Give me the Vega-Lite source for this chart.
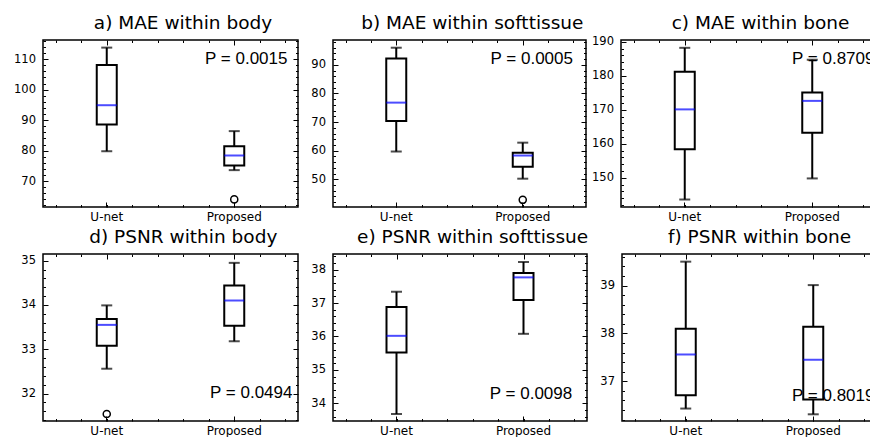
{
  "$schema": "https://vega.github.io/schema/vega-lite/v6.json",
  "background": "white",
  "padding": {"left": 12, "top": 13, "right": 0, "bottom": 0},
  "datasets": {
    "boxes": [
      {"panel": "a", "group": "U-net", "min": 79.8, "q1": 88.6, "median": 94.9, "q3": 108.1, "max": 113.8},
      {"panel": "a", "group": "Proposed", "min": 73.6, "q1": 75.1, "median": 78.4, "q3": 81.4, "max": 86.4},
      {"panel": "b", "group": "U-net", "min": 59.7, "q1": 70.4, "median": 76.8, "q3": 92.2, "max": 96.0},
      {"panel": "b", "group": "Proposed", "min": 50.2, "q1": 54.4, "median": 58.3, "q3": 59.3, "max": 62.8},
      {"panel": "c", "group": "U-net", "min": 143.6, "q1": 158.4, "median": 170.1, "q3": 181.2, "max": 188.2},
      {"panel": "c", "group": "Proposed", "min": 149.8, "q1": 163.2, "median": 172.6, "q3": 175.1, "max": 184.7},
      {"panel": "d", "group": "U-net", "min": 32.56, "q1": 33.08, "median": 33.55, "q3": 33.68, "max": 33.99},
      {"panel": "d", "group": "Proposed", "min": 33.18, "q1": 33.53, "median": 34.10, "q3": 34.44, "max": 34.95},
      {"panel": "e", "group": "U-net", "min": 33.68, "q1": 35.52, "median": 36.02, "q3": 36.88, "max": 37.34},
      {"panel": "e", "group": "Proposed", "min": 36.08, "q1": 37.09, "median": 37.77, "q3": 37.90, "max": 38.23},
      {"panel": "f", "group": "U-net", "min": 36.43, "q1": 36.71, "median": 37.56, "q3": 38.10, "max": 39.50},
      {"panel": "f", "group": "Proposed", "min": 36.31, "q1": 36.62, "median": 37.45, "q3": 38.14, "max": 39.01}
    ],
    "outliers": [
      {"panel": "a", "group": "Proposed", "value": 64.0},
      {"panel": "b", "group": "Proposed", "value": 42.8},
      {"panel": "d", "group": "U-net", "value": 31.54}
    ],
    "pvalues": [
      {"panel": "a", "label": "P = 0.0015"},
      {"panel": "b", "label": "P = 0.0005"},
      {"panel": "c", "label": "P = 0.8709"},
      {"panel": "d", "label": "P = 0.0494"},
      {"panel": "e", "label": "P = 0.0098"},
      {"panel": "f", "label": "P = 0.8019"}
    ]
  },
  "spacing": 4,
  "vconcat": [
    {
      "spacing": 35,
      "bounds": "flush",
      "hconcat": [
        {
          "width": 255, "height": 167,
          "title": {"text": "a) MAE within body", "dx": 12.5},
          "resolve": {"scale": {"x": "independent"}, "axis": {"x": "independent", "y": "independent"}},
          "layer": [
            {
              "data": {"name": "boxes"},
              "transform": [{"filter": "datum.panel === 'a'"}],
              "encoding": {"x": {"field": "group", "type": "nominal", "sort": ["U-net", "Proposed"], "scale": {"domain": ["U-net", "Proposed"], "paddingInner": 0, "paddingOuter": 0}, "axis": {"orient": "bottom", "ticks": true, "tickSize": -5, "bandPosition": 0.5, "domain": false, "labelPadding": 9, "labelAngle": 0, "labelFontSize": 12, "title": null}}},
              "layer": [
                {"mark": {"type": "rule", "color": "black", "strokeWidth": 2}, "encoding": {"y": {"field": "min", "type": "quantitative", "scale": {"domain": [61.5, 116.3], "nice": false, "zero": false}, "axis": {"orient": "left", "values": [70, 80, 90, 100, 110], "format": "d", "tickSize": -5, "labelPadding": 12.5, "labelOverlap": false, "domain": false, "title": null}}, "y2": {"field": "max"}}},
                {"mark": {"type": "bar", "width": 20, "fill": "white", "stroke": "black", "strokeWidth": 2}, "encoding": {"y": {"field": "q1", "type": "quantitative"}, "y2": {"field": "q3"}}},
                {"mark": {"type": "tick", "color": "black", "thickness": 2, "size": 11}, "encoding": {"y": {"field": "min", "type": "quantitative"}}},
                {"mark": {"type": "tick", "color": "black", "thickness": 2, "size": 11}, "encoding": {"y": {"field": "max", "type": "quantitative"}}},
                {"mark": {"type": "tick", "color": "#0000ff", "thickness": 2, "size": 20}, "encoding": {"y": {"field": "median", "type": "quantitative"}}},
                {"data": {"name": "outliers"}, "transform": [{"filter": "datum.panel === 'a'"}], "mark": {"type": "point", "shape": "circle", "filled": false, "stroke": "black", "strokeWidth": 1.5, "size": 50, "opacity": 1}, "encoding": {"y": {"field": "value", "type": "quantitative"}}},
                {"data": {"name": "pvalues"}, "transform": [{"filter": "datum.panel === 'a'"}], "mark": {"type": "text", "font": "Liberation Sans", "fontSize": 17, "color": "black", "align": "center", "baseline": "middle", "dx": 12}, "encoding": {"x": {"datum": "Proposed", "type": "nominal"}, "y": {"datum": 110, "type": "quantitative"}, "text": {"field": "label"}}}
              ]
            },
            {"data": {"values": [{}]}, "mark": {"type": "point", "opacity": 0}, "encoding": {"x": {"datum": 0.5, "type": "quantitative", "scale": {"domain": [0, 1], "nice": false, "zero": false}, "axis": {"orient": "bottom", "values": [0.05,0.15,0.25,0.35,0.45,0.55,0.65,0.75,0.85,0.95], "labels": false, "domain": false, "title": null, "tickSize": -2.5}}, "y": {"datum": 90, "type": "quantitative", "axis": {"orient": "left", "values": [62,64,66,68,72,74,76,78,82,84,86,88,92,94,96,98,102,104,106,108,112,114,116], "labels": false, "domain": false, "title": null, "tickSize": -2.5}}}},
            {"data": {"values": [{}]}, "mark": {"type": "point", "opacity": 0}, "encoding": {"x": {"datum": 0.5, "type": "quantitative", "scale": {"domain": [0, 1], "nice": false, "zero": false}, "axis": {"orient": "top", "values": [0.05,0.15,0.35,0.45,0.55,0.65,0.85,0.95], "labels": false, "domain": false, "title": null, "tickSize": -2.5}}, "y": {"datum": 90, "type": "quantitative", "axis": {"orient": "right", "values": [62,64,66,68,72,74,76,78,82,84,86,88,92,94,96,98,102,104,106,108,112,114,116], "labels": false, "domain": false, "title": null, "tickSize": -2.5}}}},
            {"data": {"values": [{}]}, "mark": {"type": "point", "opacity": 0}, "encoding": {"x": {"datum": 0.5, "type": "quantitative", "scale": {"domain": [0, 1], "nice": false, "zero": false}, "axis": {"orient": "top", "values": [0.25, 0.75], "labels": false, "domain": false, "title": null, "tickSize": -5}}, "y": {"datum": 90, "type": "quantitative", "axis": {"orient": "right", "values": [70, 80, 90, 100, 110], "labels": false, "domain": false, "title": null, "tickSize": -5}}}}
          ]
        },
        {
          "width": 253, "height": 167,
          "title": {"text": "b) MAE within softtissue", "dx": 12.8},
          "resolve": {"scale": {"x": "independent"}, "axis": {"x": "independent", "y": "independent"}},
          "layer": [
            {
              "data": {"name": "boxes"},
              "transform": [{"filter": "datum.panel === 'b'"}],
              "encoding": {"x": {"field": "group", "type": "nominal", "sort": ["U-net", "Proposed"], "scale": {"domain": ["U-net", "Proposed"], "paddingInner": 0, "paddingOuter": 0}, "axis": {"orient": "bottom", "ticks": true, "tickSize": -5, "bandPosition": 0.5, "domain": false, "labelPadding": 9, "labelAngle": 0, "labelFontSize": 12, "title": null}}},
              "layer": [
                {"mark": {"type": "rule", "color": "black", "strokeWidth": 2}, "encoding": {"y": {"field": "min", "type": "quantitative", "scale": {"domain": [40.3, 98.7], "nice": false, "zero": false}, "axis": {"orient": "left", "values": [50, 60, 70, 80, 90], "format": "d", "tickSize": -5, "labelPadding": 12.5, "labelOverlap": false, "domain": false, "title": null}}, "y2": {"field": "max"}}},
                {"mark": {"type": "bar", "width": 20, "fill": "white", "stroke": "black", "strokeWidth": 2}, "encoding": {"y": {"field": "q1", "type": "quantitative"}, "y2": {"field": "q3"}}},
                {"mark": {"type": "tick", "color": "black", "thickness": 2, "size": 11}, "encoding": {"y": {"field": "min", "type": "quantitative"}}},
                {"mark": {"type": "tick", "color": "black", "thickness": 2, "size": 11}, "encoding": {"y": {"field": "max", "type": "quantitative"}}},
                {"mark": {"type": "tick", "color": "#0000ff", "thickness": 2, "size": 20}, "encoding": {"y": {"field": "median", "type": "quantitative"}}},
                {"data": {"name": "outliers"}, "transform": [{"filter": "datum.panel === 'b'"}], "mark": {"type": "point", "shape": "circle", "filled": false, "stroke": "black", "strokeWidth": 1.5, "size": 50, "opacity": 1}, "encoding": {"y": {"field": "value", "type": "quantitative"}}},
                {"data": {"name": "pvalues"}, "transform": [{"filter": "datum.panel === 'b'"}], "mark": {"type": "text", "font": "Liberation Sans", "fontSize": 17, "color": "black", "align": "center", "baseline": "middle", "dx": 9}, "encoding": {"x": {"datum": "Proposed", "type": "nominal"}, "y": {"datum": 91.9, "type": "quantitative"}, "text": {"field": "label"}}}
              ]
            },
            {"data": {"values": [{}]}, "mark": {"type": "point", "opacity": 0}, "encoding": {"x": {"datum": 0.5, "type": "quantitative", "scale": {"domain": [0, 1], "nice": false, "zero": false}, "axis": {"orient": "bottom", "values": [0.05,0.15,0.25,0.35,0.45,0.55,0.65,0.75,0.85,0.95], "labels": false, "domain": false, "title": null, "tickSize": -2.5}}, "y": {"datum": 70, "type": "quantitative", "axis": {"orient": "left", "values": [42,44,46,48,52,54,56,58,62,64,66,68,72,74,76,78,82,84,86,88,92,94,96,98], "labels": false, "domain": false, "title": null, "tickSize": -2.5}}}},
            {"data": {"values": [{}]}, "mark": {"type": "point", "opacity": 0}, "encoding": {"x": {"datum": 0.5, "type": "quantitative", "scale": {"domain": [0, 1], "nice": false, "zero": false}, "axis": {"orient": "top", "values": [0.05,0.15,0.35,0.45,0.55,0.65,0.85,0.95], "labels": false, "domain": false, "title": null, "tickSize": -2.5}}, "y": {"datum": 70, "type": "quantitative", "axis": {"orient": "right", "values": [42,44,46,48,52,54,56,58,62,64,66,68,72,74,76,78,82,84,86,88,92,94,96,98], "labels": false, "domain": false, "title": null, "tickSize": -2.5}}}},
            {"data": {"values": [{}]}, "mark": {"type": "point", "opacity": 0}, "encoding": {"x": {"datum": 0.5, "type": "quantitative", "scale": {"domain": [0, 1], "nice": false, "zero": false}, "axis": {"orient": "top", "values": [0.25, 0.75], "labels": false, "domain": false, "title": null, "tickSize": -5}}, "y": {"datum": 70, "type": "quantitative", "axis": {"orient": "right", "values": [50, 60, 70, 80, 90], "labels": false, "domain": false, "title": null, "tickSize": -5}}}}
          ]
        },
        {
          "width": 255, "height": 167,
          "title": {"text": "c) MAE within bone", "dx": 12, "offset": 3},
          "resolve": {"scale": {"x": "independent"}, "axis": {"x": "independent", "y": "independent"}},
          "layer": [
            {
              "data": {"name": "boxes"},
              "transform": [{"filter": "datum.panel === 'c'"}],
              "encoding": {"x": {"field": "group", "type": "nominal", "sort": ["U-net", "Proposed"], "scale": {"domain": ["U-net", "Proposed"], "paddingInner": 0, "paddingOuter": 0}, "axis": {"orient": "bottom", "ticks": true, "tickSize": -5, "bandPosition": 0.5, "domain": false, "labelPadding": 9, "labelAngle": 0, "labelFontSize": 12, "title": null}}},
              "layer": [
                {"mark": {"type": "rule", "color": "black", "strokeWidth": 2}, "encoding": {"y": {"field": "min", "type": "quantitative", "scale": {"domain": [141.4, 190.5], "nice": false, "zero": false}, "axis": {"orient": "left", "values": [150, 160, 170, 180, 190], "format": "d", "tickSize": -5, "labelPadding": 12.5, "labelOverlap": false, "domain": false, "title": null}}, "y2": {"field": "max"}}},
                {"mark": {"type": "bar", "width": 20, "fill": "white", "stroke": "black", "strokeWidth": 2}, "encoding": {"y": {"field": "q1", "type": "quantitative"}, "y2": {"field": "q3"}}},
                {"mark": {"type": "tick", "color": "black", "thickness": 2, "size": 11}, "encoding": {"y": {"field": "min", "type": "quantitative"}}},
                {"mark": {"type": "tick", "color": "black", "thickness": 2, "size": 11}, "encoding": {"y": {"field": "max", "type": "quantitative"}}},
                {"mark": {"type": "tick", "color": "#0000ff", "thickness": 2, "size": 20}, "encoding": {"y": {"field": "median", "type": "quantitative"}}},
                {"data": {"name": "pvalues"}, "transform": [{"filter": "datum.panel === 'c'"}], "mark": {"type": "text", "font": "Liberation Sans", "fontSize": 17, "color": "black", "align": "center", "baseline": "middle", "dx": 21}, "encoding": {"x": {"datum": "Proposed", "type": "nominal"}, "y": {"datum": 184.8, "type": "quantitative"}, "text": {"field": "label"}}}
              ]
            },
            {"data": {"values": [{}]}, "mark": {"type": "point", "opacity": 0}, "encoding": {"x": {"datum": 0.5, "type": "quantitative", "scale": {"domain": [0, 1], "nice": false, "zero": false}, "axis": {"orient": "bottom", "values": [0.05,0.15,0.25,0.35,0.45,0.55,0.65,0.75,0.85,0.95], "labels": false, "domain": false, "title": null, "tickSize": -2.5}}, "y": {"datum": 170, "type": "quantitative", "axis": {"orient": "left", "values": [142,144,146,148,152,154,156,158,162,164,166,168,172,174,176,178,182,184,186,188], "labels": false, "domain": false, "title": null, "tickSize": -2.5}}}},
            {"data": {"values": [{}]}, "mark": {"type": "point", "opacity": 0}, "encoding": {"x": {"datum": 0.5, "type": "quantitative", "scale": {"domain": [0, 1], "nice": false, "zero": false}, "axis": {"orient": "top", "values": [0.05,0.15,0.35,0.45,0.55,0.65,0.85,0.95], "labels": false, "domain": false, "title": null, "tickSize": -2.5}}, "y": {"datum": 170, "type": "quantitative", "axis": {"orient": "right", "values": [142,144,146,148,152,154,156,158,162,164,166,168,172,174,176,178,182,184,186,188], "labels": false, "domain": false, "title": null, "tickSize": -2.5}}}},
            {"data": {"values": [{}]}, "mark": {"type": "point", "opacity": 0}, "encoding": {"x": {"datum": 0.5, "type": "quantitative", "scale": {"domain": [0, 1], "nice": false, "zero": false}, "axis": {"orient": "top", "values": [0.25, 0.75], "labels": false, "domain": false, "title": null, "tickSize": -5}}, "y": {"datum": 170, "type": "quantitative", "axis": {"orient": "right", "values": [150, 160, 170, 180, 190], "labels": false, "domain": false, "title": null, "tickSize": -5}}}}
          ]
        }
      ]
    },
    {
      "spacing": 35,
      "bounds": "flush",
      "hconcat": [
        {
          "width": 255, "height": 167,
          "title": {"text": "d) PSNR within body", "dx": 12.8},
          "resolve": {"scale": {"x": "independent"}, "axis": {"x": "independent", "y": "independent"}},
          "layer": [
            {
              "data": {"name": "boxes"},
              "transform": [{"filter": "datum.panel === 'd'"}],
              "encoding": {"x": {"field": "group", "type": "nominal", "sort": ["U-net", "Proposed"], "scale": {"domain": ["U-net", "Proposed"], "paddingInner": 0, "paddingOuter": 0}, "axis": {"orient": "bottom", "ticks": true, "tickSize": -5, "bandPosition": 0.5, "domain": false, "labelPadding": 9, "labelAngle": 0, "labelFontSize": 12, "title": null}}},
              "layer": [
                {"mark": {"type": "rule", "color": "black", "strokeWidth": 2}, "encoding": {"y": {"field": "min", "type": "quantitative", "scale": {"domain": [31.38, 35.15], "nice": false, "zero": false}, "axis": {"orient": "left", "values": [32, 33, 34, 35], "format": "d", "tickSize": -5, "labelPadding": 12.5, "labelOverlap": false, "domain": false, "title": null}}, "y2": {"field": "max"}}},
                {"mark": {"type": "bar", "width": 20, "fill": "white", "stroke": "black", "strokeWidth": 2}, "encoding": {"y": {"field": "q1", "type": "quantitative"}, "y2": {"field": "q3"}}},
                {"mark": {"type": "tick", "color": "black", "thickness": 2, "size": 11}, "encoding": {"y": {"field": "min", "type": "quantitative"}}},
                {"mark": {"type": "tick", "color": "black", "thickness": 2, "size": 11}, "encoding": {"y": {"field": "max", "type": "quantitative"}}},
                {"mark": {"type": "tick", "color": "#0000ff", "thickness": 2, "size": 20}, "encoding": {"y": {"field": "median", "type": "quantitative"}}},
                {"data": {"name": "outliers"}, "transform": [{"filter": "datum.panel === 'd'"}], "mark": {"type": "point", "shape": "circle", "filled": false, "stroke": "black", "strokeWidth": 1.5, "size": 50, "opacity": 1}, "encoding": {"y": {"field": "value", "type": "quantitative"}}},
                {"data": {"name": "pvalues"}, "transform": [{"filter": "datum.panel === 'd'"}], "mark": {"type": "text", "font": "Liberation Sans", "fontSize": 17, "color": "black", "align": "center", "baseline": "middle", "dx": 17}, "encoding": {"x": {"datum": "Proposed", "type": "nominal"}, "y": {"datum": 32.02, "type": "quantitative"}, "text": {"field": "label"}}}
              ]
            },
            {"data": {"values": [{}]}, "mark": {"type": "point", "opacity": 0}, "encoding": {"x": {"datum": 0.5, "type": "quantitative", "scale": {"domain": [0, 1], "nice": false, "zero": false}, "axis": {"orient": "bottom", "values": [0.05,0.15,0.25,0.35,0.45,0.55,0.65,0.75,0.85,0.95], "labels": false, "domain": false, "title": null, "tickSize": -2.5}}, "y": {"datum": 33, "type": "quantitative", "axis": {"orient": "left", "values": [31.4,31.6,31.8,32.2,32.4,32.6,32.8,33.2,33.4,33.6,33.8,34.2,34.4,34.6,34.8], "labels": false, "domain": false, "title": null, "tickSize": -2.5}}}},
            {"data": {"values": [{}]}, "mark": {"type": "point", "opacity": 0}, "encoding": {"x": {"datum": 0.5, "type": "quantitative", "scale": {"domain": [0, 1], "nice": false, "zero": false}, "axis": {"orient": "top", "values": [0.05,0.15,0.35,0.45,0.55,0.65,0.85,0.95], "labels": false, "domain": false, "title": null, "tickSize": -2.5}}, "y": {"datum": 33, "type": "quantitative", "axis": {"orient": "right", "values": [31.4,31.6,31.8,32.2,32.4,32.6,32.8,33.2,33.4,33.6,33.8,34.2,34.4,34.6,34.8], "labels": false, "domain": false, "title": null, "tickSize": -2.5}}}},
            {"data": {"values": [{}]}, "mark": {"type": "point", "opacity": 0}, "encoding": {"x": {"datum": 0.5, "type": "quantitative", "scale": {"domain": [0, 1], "nice": false, "zero": false}, "axis": {"orient": "top", "values": [0.25, 0.75], "labels": false, "domain": false, "title": null, "tickSize": -5}}, "y": {"datum": 33, "type": "quantitative", "axis": {"orient": "right", "values": [32, 33, 34, 35], "labels": false, "domain": false, "title": null, "tickSize": -5}}}}
          ]
        },
        {
          "width": 254, "height": 167,
          "title": {"text": "e) PSNR within softtissue", "dx": 12.6},
          "resolve": {"scale": {"x": "independent"}, "axis": {"x": "independent", "y": "independent"}},
          "layer": [
            {
              "data": {"name": "boxes"},
              "transform": [{"filter": "datum.panel === 'e'"}],
              "encoding": {"x": {"field": "group", "type": "nominal", "sort": ["U-net", "Proposed"], "scale": {"domain": ["U-net", "Proposed"], "paddingInner": 0, "paddingOuter": 0}, "axis": {"orient": "bottom", "ticks": true, "tickSize": -5, "bandPosition": 0.5, "domain": false, "labelPadding": 9, "labelAngle": 0, "labelFontSize": 12, "title": null}}},
              "layer": [
                {"mark": {"type": "rule", "color": "black", "strokeWidth": 2}, "encoding": {"y": {"field": "min", "type": "quantitative", "scale": {"domain": [33.47, 38.47], "nice": false, "zero": false}, "axis": {"orient": "left", "values": [34, 35, 36, 37, 38], "format": "d", "tickSize": -5, "labelPadding": 12.5, "labelOverlap": false, "domain": false, "title": null}}, "y2": {"field": "max"}}},
                {"mark": {"type": "bar", "width": 20, "fill": "white", "stroke": "black", "strokeWidth": 2}, "encoding": {"y": {"field": "q1", "type": "quantitative"}, "y2": {"field": "q3"}}},
                {"mark": {"type": "tick", "color": "black", "thickness": 2, "size": 11}, "encoding": {"y": {"field": "min", "type": "quantitative"}}},
                {"mark": {"type": "tick", "color": "black", "thickness": 2, "size": 11}, "encoding": {"y": {"field": "max", "type": "quantitative"}}},
                {"mark": {"type": "tick", "color": "#0000ff", "thickness": 2, "size": 20}, "encoding": {"y": {"field": "median", "type": "quantitative"}}},
                {"data": {"name": "pvalues"}, "transform": [{"filter": "datum.panel === 'e'"}], "mark": {"type": "text", "font": "Liberation Sans", "fontSize": 17, "color": "black", "align": "center", "baseline": "middle", "dx": 7.5}, "encoding": {"x": {"datum": "Proposed", "type": "nominal"}, "y": {"datum": 34.28, "type": "quantitative"}, "text": {"field": "label"}}}
              ]
            },
            {"data": {"values": [{}]}, "mark": {"type": "point", "opacity": 0}, "encoding": {"x": {"datum": 0.5, "type": "quantitative", "scale": {"domain": [0, 1], "nice": false, "zero": false}, "axis": {"orient": "bottom", "values": [0.05,0.15,0.25,0.35,0.45,0.55,0.65,0.75,0.85,0.95], "labels": false, "domain": false, "title": null, "tickSize": -2.5}}, "y": {"datum": 36, "type": "quantitative", "axis": {"orient": "left", "values": [33.6,33.8,34.2,34.4,34.6,34.8,35.2,35.4,35.6,35.8,36.2,36.4,36.6,36.8,37.2,37.4,37.6,37.8,38.2,38.4], "labels": false, "domain": false, "title": null, "tickSize": -2.5}}}},
            {"data": {"values": [{}]}, "mark": {"type": "point", "opacity": 0}, "encoding": {"x": {"datum": 0.5, "type": "quantitative", "scale": {"domain": [0, 1], "nice": false, "zero": false}, "axis": {"orient": "top", "values": [0.05,0.15,0.35,0.45,0.55,0.65,0.85,0.95], "labels": false, "domain": false, "title": null, "tickSize": -2.5}}, "y": {"datum": 36, "type": "quantitative", "axis": {"orient": "right", "values": [33.6,33.8,34.2,34.4,34.6,34.8,35.2,35.4,35.6,35.8,36.2,36.4,36.6,36.8,37.2,37.4,37.6,37.8,38.2,38.4], "labels": false, "domain": false, "title": null, "tickSize": -2.5}}}},
            {"data": {"values": [{}]}, "mark": {"type": "point", "opacity": 0}, "encoding": {"x": {"datum": 0.5, "type": "quantitative", "scale": {"domain": [0, 1], "nice": false, "zero": false}, "axis": {"orient": "top", "values": [0.25, 0.75], "labels": false, "domain": false, "title": null, "tickSize": -5}}, "y": {"datum": 36, "type": "quantitative", "axis": {"orient": "right", "values": [34, 35, 36, 37, 38], "labels": false, "domain": false, "title": null, "tickSize": -5}}}}
          ]
        },
        {
          "width": 255, "height": 167,
          "title": {"text": "f) PSNR within bone", "dx": 10},
          "resolve": {"scale": {"x": "independent"}, "axis": {"x": "independent", "y": "independent"}},
          "layer": [
            {
              "data": {"name": "boxes"},
              "transform": [{"filter": "datum.panel === 'f'"}],
              "encoding": {"x": {"field": "group", "type": "nominal", "sort": ["U-net", "Proposed"], "scale": {"domain": ["U-net", "Proposed"], "paddingInner": 0, "paddingOuter": 0}, "axis": {"orient": "bottom", "ticks": true, "tickSize": -5, "bandPosition": 0.5, "domain": false, "labelPadding": 9, "labelAngle": 0, "labelFontSize": 12, "title": null}}},
              "layer": [
                {"mark": {"type": "rule", "color": "black", "strokeWidth": 2}, "encoding": {"y": {"field": "min", "type": "quantitative", "scale": {"domain": [36.17, 39.66], "nice": false, "zero": false}, "axis": {"orient": "left", "values": [37, 38, 39], "format": "d", "tickSize": -5, "labelPadding": 12.5, "labelOverlap": false, "domain": false, "title": null}}, "y2": {"field": "max"}}},
                {"mark": {"type": "bar", "width": 20, "fill": "white", "stroke": "black", "strokeWidth": 2}, "encoding": {"y": {"field": "q1", "type": "quantitative"}, "y2": {"field": "q3"}}},
                {"mark": {"type": "tick", "color": "black", "thickness": 2, "size": 11}, "encoding": {"y": {"field": "min", "type": "quantitative"}}},
                {"mark": {"type": "tick", "color": "black", "thickness": 2, "size": 11}, "encoding": {"y": {"field": "max", "type": "quantitative"}}},
                {"mark": {"type": "tick", "color": "#0000ff", "thickness": 2, "size": 20}, "encoding": {"y": {"field": "median", "type": "quantitative"}}},
                {"data": {"name": "pvalues"}, "transform": [{"filter": "datum.panel === 'f'"}], "mark": {"type": "text", "font": "Liberation Sans", "fontSize": 17, "color": "black", "align": "center", "baseline": "middle", "dx": 20}, "encoding": {"x": {"datum": "Proposed", "type": "nominal"}, "y": {"datum": 36.69, "type": "quantitative"}, "text": {"field": "label"}}}
              ]
            },
            {"data": {"values": [{}]}, "mark": {"type": "point", "opacity": 0}, "encoding": {"x": {"datum": 0.5, "type": "quantitative", "scale": {"domain": [0, 1], "nice": false, "zero": false}, "axis": {"orient": "bottom", "values": [0.05,0.15,0.25,0.35,0.45,0.55,0.65,0.75,0.85,0.95], "labels": false, "domain": false, "title": null, "tickSize": -2.5}}, "y": {"datum": 38, "type": "quantitative", "axis": {"orient": "left", "values": [36.2,36.4,36.6,36.8,37.2,37.4,37.6,37.8,38.2,38.4,38.6,38.8,39.2,39.4,39.6], "labels": false, "domain": false, "title": null, "tickSize": -2.5}}}},
            {"data": {"values": [{}]}, "mark": {"type": "point", "opacity": 0}, "encoding": {"x": {"datum": 0.5, "type": "quantitative", "scale": {"domain": [0, 1], "nice": false, "zero": false}, "axis": {"orient": "top", "values": [0.05,0.15,0.35,0.45,0.55,0.65,0.85,0.95], "labels": false, "domain": false, "title": null, "tickSize": -2.5}}, "y": {"datum": 38, "type": "quantitative", "axis": {"orient": "right", "values": [36.2,36.4,36.6,36.8,37.2,37.4,37.6,37.8,38.2,38.4,38.6,38.8,39.2,39.4,39.6], "labels": false, "domain": false, "title": null, "tickSize": -2.5}}}},
            {"data": {"values": [{}]}, "mark": {"type": "point", "opacity": 0}, "encoding": {"x": {"datum": 0.5, "type": "quantitative", "scale": {"domain": [0, 1], "nice": false, "zero": false}, "axis": {"orient": "top", "values": [0.25, 0.75], "labels": false, "domain": false, "title": null, "tickSize": -5}}, "y": {"datum": 38, "type": "quantitative", "axis": {"orient": "right", "values": [37, 38, 39], "labels": false, "domain": false, "title": null, "tickSize": -5}}}}
          ]
        }
      ]
    }
  ],
  "config": {
    "view": {"stroke": "black", "strokeWidth": 1.5},
    "axis": {"labelFont": "DejaVu Sans", "labelFontSize": 11.5, "labelColor": "black", "tickColor": "black", "tickWidth": 1, "grid": false},
    "title": {"font": "DejaVu Sans", "fontSize": 18.5, "fontWeight": "normal", "color": "black", "frame": "group", "anchor": "middle", "baseline": "alphabetic", "offset": 7}
  }
}
